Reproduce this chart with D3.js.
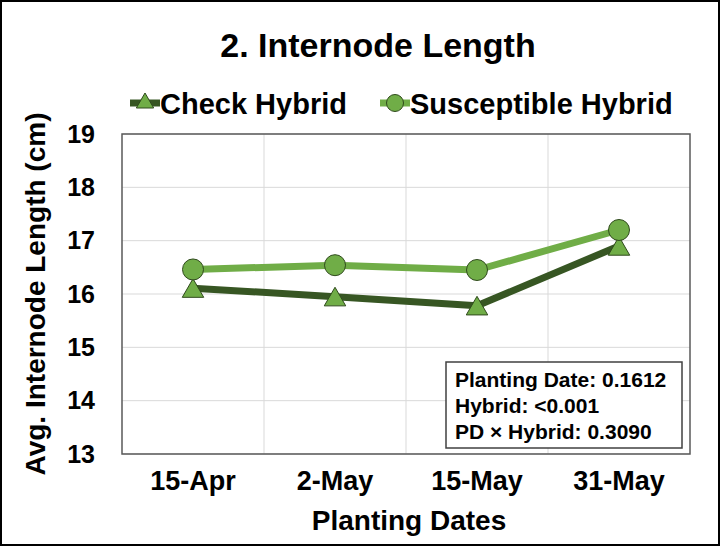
<!DOCTYPE html>
<html>
<head>
<meta charset="utf-8">
<script src="https://cdn.jsdelivr.net/npm/d3@7"></script>
<style>
	body { margin: 0; background: #fff; }
	svg { display: block; font-family: 'Liberation Sans', Arial, sans-serif; }
</style>
</head>
<body>
<svg id="chart"></svg>
<script>
const dates = ['15-Apr', '2-May', '15-May', '31-May'];
const checkHybrid = [16.11, 15.95, 15.78, 16.9];
const susceptibleHybrid = [16.46, 16.54, 16.45, 17.2];
const yTicks = [13, 14, 15, 16, 17, 18, 19];
const stats = ['Planting Date: 0.1612', 'Hybrid: <0.001', 'PD × Hybrid: 0.3090'];

const totalWidth = 720;
const totalHeight = 546;
const margin = { top: 134, right: 30, bottom: 92, left: 122 };
const width = totalWidth - margin.left - margin.right;
const height = totalHeight - margin.top - margin.bottom;

const DARK = '#375623';
const LIGHT = '#70ad47';
const FONT = "'Liberation Sans', Arial, sans-serif";

const series = [
	{ label: 'Check Hybrid', values: checkHybrid, color: DARK, marker: 'triangle' },
	{ label: 'Susceptible Hybrid', values: susceptibleHybrid, color: LIGHT, marker: 'circle' }
];

const svg = d3.select('#chart')
	.attr('width', totalWidth)
	.attr('height', totalHeight);

// outer frame
svg.append('rect')
	.attr('x', 1).attr('y', 1)
	.attr('width', totalWidth - 2).attr('height', totalHeight - 2)
	.attr('fill', '#fff')
	.attr('stroke', '#000')
	.attr('stroke-width', 2);

const xScale = d3.scaleBand(dates, [0, width]);
const yScale = d3.scaleLinear([13, 19], [height, 0]);

const g = svg.append('g')
	.attr('transform', `translate(${margin.left}, ${margin.top})`);

/** GRIDS *******************************************************************/
g.selectAll('.grid-y')
	.data(yTicks)
	.enter()
	.append('line')
	.attr('x1', 0)
	.attr('x2', width)
	.attr('y1', (d) => yScale(d))
	.attr('y2', (d) => yScale(d))
	.attr('stroke', '#d9d9d9')
	.attr('stroke-width', 1);

g.selectAll('.grid-x')
	.data(dates.slice(1))
	.enter()
	.append('line')
	.attr('x1', (d) => xScale(d))
	.attr('x2', (d) => xScale(d))
	.attr('y1', 0)
	.attr('y2', height)
	.attr('stroke', '#d9d9d9')
	.attr('stroke-width', 1);

g.append('rect')
	.attr('width', width)
	.attr('height', height)
	.attr('fill', 'none')
	.attr('stroke', '#595959')
	.attr('stroke-width', 1.5);

/** AXES ********************************************************************/
const leftAxis = d3.axisLeft(yScale)
	.tickValues(yTicks)
	.tickFormat(d3.format('d'))
	.tickSize(0)
	.tickPadding(27);
g.append('g')
	.call(leftAxis)
	.call((a) => a.select('.domain').remove())
	.selectAll('text')
	.attr('font-family', FONT)
	.attr('font-size', 25)
	.attr('font-weight', 'bold')
	.attr('fill', '#000');

const bottomAxis = d3.axisBottom(xScale).tickSize(0).tickPadding(17);
g.append('g')
	.attr('transform', `translate(0, ${height})`)
	.call(bottomAxis)
	.call((a) => a.select('.domain').remove())
	.selectAll('text')
	.attr('font-family', FONT)
	.attr('font-size', 27)
	.attr('font-weight', 'bold')
	.attr('fill', '#000');

/** DATA ********************************************************************/
const cx = (i) => xScale(dates[i]) + xScale.bandwidth() / 2;
const triangle = d3.symbol(d3.symbolTriangle, 200);

series.forEach((s) => {
	const sg = g.append('g');
	sg.append('path')
		.attr('fill', 'none')
		.attr('stroke', s.color)
		.attr('stroke-width', 7)
		.attr('stroke-linejoin', 'round')
		.attr('d', d3.line().x((d, i) => cx(i)).y((d) => yScale(d))(s.values));

	const pts = sg.selectAll('.pt').data(s.values).enter();
	if (s.marker === 'circle') {
		pts.append('circle')
			.attr('cx', (d, i) => cx(i))
			.attr('cy', (d) => yScale(d))
			.attr('r', 10.5)
			.attr('fill', LIGHT)
			.attr('stroke', '#2f4a1c')
			.attr('stroke-width', 1);
	} else {
		pts.append('path')
			.attr('d', triangle)
			.attr('transform', (d, i) => `translate(${cx(i)}, ${yScale(d) + 3})`)
			.attr('fill', LIGHT)
			.attr('stroke', '#2f4a1c')
			.attr('stroke-width', 1);
	}
});

/** STATS BOX ***************************************************************/
const box = svg.append('g').attr('transform', 'translate(446, 362)');
box.append('rect')
	.attr('width', 236)
	.attr('height', 86)
	.attr('fill', '#fff')
	.attr('stroke', '#404040')
	.attr('stroke-width', 1.5);
box.selectAll('text')
	.data(stats)
	.enter()
	.append('text')
	.attr('x', 9)
	.attr('y', (d, i) => 25 + i * 26)
	.attr('font-size', 21)
	.attr('font-weight', 'bold')
	.attr('fill', '#000')
	.text((d) => d);

/** TITLES ******************************************************************/
svg.append('text')
	.attr('x', 378)
	.attr('y', 57)
	.attr('text-anchor', 'middle')
	.attr('font-size', 34)
	.attr('font-weight', 'bold')
	.text('2. Internode Length');

svg.append('text')
	.attr('x', margin.left + width / 2 + 3)
	.attr('y', 530)
	.attr('text-anchor', 'middle')
	.attr('font-size', 28)
	.attr('font-weight', 'bold')
	.text('Planting Dates');

svg.append('text')
	.attr('transform', `translate(45, ${margin.top + height / 2}) rotate(-90)`)
	.attr('text-anchor', 'middle')
	.attr('font-size', 28)
	.attr('font-weight', 'bold')
	.text('Avg. Internode Length (cm)');

/** LEGEND ******************************************************************/
const legendPos = [130, 380];
series.forEach((s, i) => {
	const lg = svg.append('g').attr('transform', `translate(${legendPos[i]}, 103)`);
	lg.append('line')
		.attr('x1', 0).attr('x2', 30)
		.attr('stroke', s.color)
		.attr('stroke-width', 7);
	if (s.marker === 'circle') {
		lg.append('circle')
			.attr('cx', 15).attr('r', 8.5)
			.attr('fill', LIGHT)
			.attr('stroke', '#2f4a1c')
			.attr('stroke-width', 1);
	} else {
		lg.append('path')
			.attr('d', d3.symbol(d3.symbolTriangle, 130))
			.attr('transform', 'translate(15, 0)')
			.attr('fill', LIGHT)
			.attr('stroke', '#2f4a1c')
			.attr('stroke-width', 1);
	}
	lg.append('text')
		.attr('x', 30)
		.attr('y', 11)
		.attr('font-size', 29)
		.attr('font-weight', 'bold')
		.text(s.label);
});
</script>
</body>
</html>
